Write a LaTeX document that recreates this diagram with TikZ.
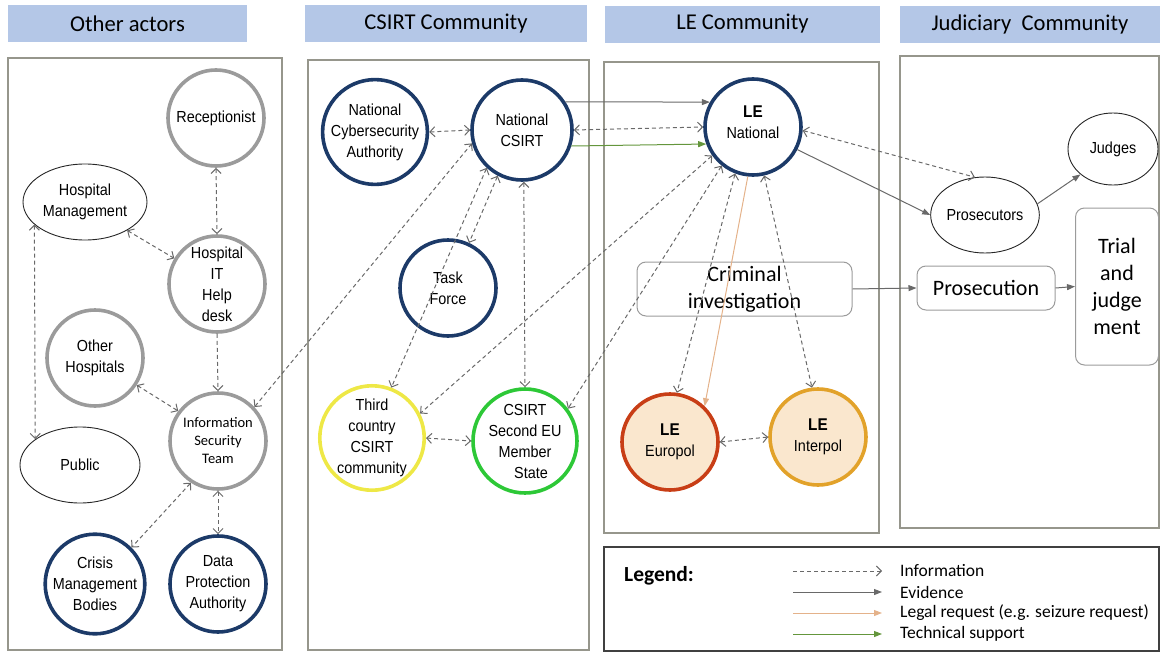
\documentclass[tikz,border=0pt]{standalone}
\usepackage{fontspec}
\setmainfont{Liberation Sans}
\newfontfamily\calfont{Carlito}
\newfontfamily\narrowfont[FakeStretch=0.9]{Liberation Sans}
\usetikzlibrary{arrows.meta,shapes.geometric}
\definecolor{headblue}{RGB}{180,199,231}
\definecolor{navy}{RGB}{28,58,104}
\definecolor{actgray}{RGB}{155,155,155}
\definecolor{panelgray}{RGB}{150,150,140}
\definecolor{linegray}{RGB}{105,105,105}
\definecolor{thirdyellow}{RGB}{238,232,70}
\definecolor{secondgreen}{RGB}{45,200,55}
\definecolor{europolred}{RGB}{200,62,22}
\definecolor{interpolorange}{RGB}{226,162,42}
\definecolor{lefill}{RGB}{250,231,206}
\definecolor{legaltan}{RGB}{228,178,138}
\definecolor{techgreen}{RGB}{100,150,60}

\begin{document}
\begin{tikzpicture}[x=1pt, y=-1pt,
    header/.style={fill=headblue, inner sep=0pt, minimum height=37pt,
      font=\calfont\fontsize{22.6}{26}\selectfont},
    panel/.style={draw=panelgray, line width=1.2pt},
    actor/.style={circle, minimum size=96pt, inner sep=0pt, line width=3.6pt,
      align=center, font=\narrowfont\fontsize{16}{21}\selectfont},
    grayactor/.style={actor, draw=actgray},
    blueactor/.style={actor, draw=navy},
    leactor/.style={actor, fill=lefill},
    oval/.style={ellipse, draw=black!85, line width=0.9pt, inner sep=0pt, align=center,
      font=\narrowfont\fontsize{16}{21}\selectfont},
    stagebox/.style={draw=actgray, line width=1pt, rounded corners=9pt, align=center,
      inner sep=0pt, font=\calfont\fontsize{22}{27}\selectfont},
    info/.style={draw=linegray, line width=1pt, dash pattern=on 4pt off 3pt,
      {Straight Barb[length=5pt,width=10pt]}-{Straight Barb[length=5pt,width=10pt]}},
    infoto/.style={info, -{Straight Barb[length=5pt,width=10pt]}},
    evidence/.style={draw=linegray, line width=1pt, -{Triangle[length=8pt,width=6pt]}},
    legal/.style={draw=legaltan, line width=1pt, -{Triangle[length=8pt,width=6pt]}},
    technical/.style={draw=techgreen, line width=1pt, -{Triangle[length=8pt,width=6pt]}},
    legtext/.style={anchor=west, inner sep=0pt, font=\calfont\fontsize{17.5}{20}\selectfont}]
\useasboundingbox (0,0) rectangle (1160,653);

% headers
\node[header, minimum width=239pt] (hdrother) at (127.5,23.5) {Other actors};
\node[header, minimum width=282pt] (hdrcsirt) at (446,23.5) {CSIRT Community};
\node[header, minimum width=275pt] (hdrle) at (742.5,24) {LE Community};
\node[header, minimum width=260pt] (hdrjud) at (1030,24) {Judiciary~~Community};

% panels
\draw[panel] (8,58) rectangle (282,650);
\draw[panel] (308,60) rectangle (589,650);
\draw[panel] (604,62) rectangle (879,533);
\draw[panel] (900,56) rectangle (1159,528);
\draw[panel, draw=black!75] (604,547) rectangle (1159,651);

% other actors
\node[grayactor] (recept) at (216,118) {Receptionist};
\node[oval, minimum width=124pt, minimum height=76pt] (hospmgmt) at (85,202) {Hospital\\Management};
\node[grayactor] (helpdesk) at (217,284) {Hospital\\IT\\Help\\desk};
\node[grayactor] (otherhosp) at (95,358) {Other\\Hospitals};
\node[oval, minimum width=120pt, minimum height=76pt] (public) at (80,465) {Public};
\node[grayactor, font=\calfont\fontsize{14.5}{18}\selectfont] (infosec) at (218,441) {Information\\Security\\Team};
\node[blueactor] (crisis) at (95,584) {Crisis\\Management\\Bodies};
\node[blueactor] (dataprot) at (218,584) {Data\\Protection\\Authority};

% CSIRT community
\node[blueactor] (natcyber) at (375,132) {National\\Cybersecurity\\Authority};
\node[blueactor, minimum size=100pt] (natcsirt) at (522,130) {National\\CSIRT};
\node[blueactor] (taskforce) at (448,288) {Task\\Force};
\node[actor, draw=thirdyellow, minimum size=100pt] (thirdc) at (372,438) {Third\\country\\CSIRT\\community};
\node[actor, draw=secondgreen, minimum size=100pt] (secondeu) at (525,441) {CSIRT\\Second EU\\Member\\\hspace*{12pt}State};

% LE community
\node[blueactor] (lenat) at (753,127) {{\bfseries\fontsize{17}{21}\selectfont LE}\\National\\[-11pt]\mbox{}};
\node[stagebox, minimum width=215pt, minimum height=54pt] (crimeinv) at (744.5,289) {Criminal\\investigation};
\node[leactor, draw=europolred] (europol) at (670,442) {{\bfseries\fontsize{17}{21}\selectfont LE}\\Europol};
\node[leactor, draw=interpolorange] (interpol) at (818,437) {{\bfseries\fontsize{17}{21}\selectfont LE}\\Interpol};

% judiciary community
\node[oval, minimum width=90pt, minimum height=72pt] (judges) at (1113,149) {Judges};
\node[oval, minimum width=90pt, minimum height=76pt] (prosecutors) at (985,215) {Prosecutors};
\node[stagebox, minimum width=138pt, minimum height=44pt] (prosecution) at (986,288) {Prosecution};
\node[stagebox, minimum width=83pt, minimum height=157pt] (trial) at (1117,286.5) {Trial\\and\\judge\\ment};

% connectors, other actors
\draw[info] (recept.south) -- (helpdesk.north);
\draw[info] (hospmgmt.-34) -- (helpdesk.149);
\draw[info] (hospmgmt.204) -- (public.150);
\draw[infoto] (helpdesk.south) -- (infosec.north);
\draw[info] (otherhosp.-33) -- (infosec.143);
\draw[info] (infosec.237) -- (crisis.45);
\draw[info] (infosec.south) -- (dataprot.north);
\draw[info] (infosec.43) -- (natcsirt.195);

% connectors, CSIRT community
\draw[info] (natcyber.east) -- (natcsirt.west);
\draw[info] (natcsirt.227) -- (thirdc.69);
\draw[info] (natcsirt.242) -- (taskforce.65);
\draw[info] (natcsirt.-88) -- (secondeu.north);
\draw[info] (thirdc.east) -- (secondeu.west);

% connectors, LE community
\draw[evidence] (natcsirt.33) -- (lenat.150);
\draw[info] (natcsirt.east) -- (lenat.west);
\draw[technical] (natcsirt.-18) -- (lenat.200);
\draw[info] (lenat.215) -- (thirdc.27);
\draw[info] (lenat.231) -- (secondeu.37);
\draw[info] (lenat.249) -- (europol.82);
\draw[legal] (lenat.264) -- (europol.46);
\draw[info] (lenat.283) -- (interpol.97);
\draw[info] (europol.east) -- (interpol.west);

% connectors, judiciary
\draw[info] (lenat.-4) -- (prosecutors.105);
\draw[evidence] (lenat.-27) -- (prosecutors.west);
\draw[evidence] (prosecutors.12) -- (judges.218);
\draw[evidence] (crimeinv.east) -- (prosecution.west);
\draw[evidence] (prosecution.east) -- (trial.west);

% legend
\node[anchor=west, inner sep=0pt, font=\calfont\bfseries\fontsize{21.5}{25}\selectfont] (legtitle) at (624,576) {Legend:};
\coordinate (infoa) at (793,571);   \coordinate (infob) at (882,571);
\coordinate (evida) at (793,592);   \coordinate (evidb) at (882,592);
\coordinate (legala) at (793,613);  \coordinate (legalb) at (882,613);
\coordinate (techa) at (793,634);   \coordinate (techb) at (882,634);
\draw[infoto] (infoa) -- (infob);
\draw[evidence] (evida) -- (evidb);
\draw[legal] (legala) -- (legalb);
\draw[technical] (techa) -- (techb);
\node[legtext] (infolab) at (900,571) {Information};
\node[legtext] (evidlab) at (900,592) {Evidence};
\node[legtext] (legallab) at (900,613) {Legal request (e.g. seizure request)};
\node[legtext] (techlab) at (900,634) {Technical support};
\end{tikzpicture}
\end{document}
